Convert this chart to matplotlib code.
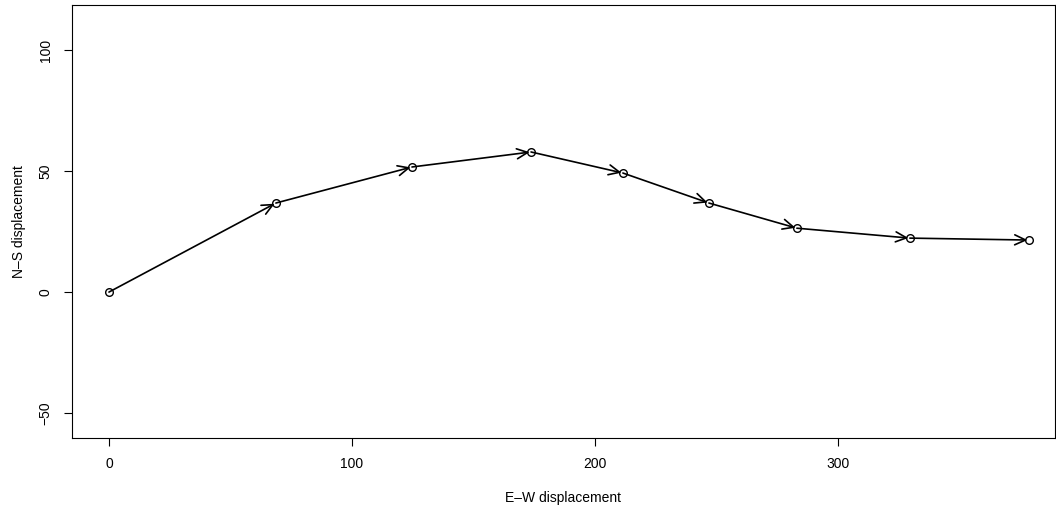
import numpy as np
from matplotlib import pyplot as plt

plt.rcParams['font.family'] = ['Liberation Sans', 'DejaVu Sans']

#%% DATA
ew = [0, 68.7, 124.7, 173.7, 211.5, 246.9, 283.1, 329.6, 378.6]
ns = [0, 36.8, 51.7, 57.9, 49.2, 36.8, 26.4, 22.3, 21.5]
xticks = [0, 100, 200, 300]
yticks = [-50, 0, 50, 100]

#%% PLOT
fig = plt.figure(figsize=(10.56, 5.11), dpi=100)
ax = fig.add_axes([0.0682, 0.1429, 0.9308, 0.8471])

ax.plot(ew, ns, linestyle='none', marker='o', markersize=5.5,
        markerfacecolor='none', markeredgecolor='black', markeredgewidth=1)

for i in range(len(ew) - 1):
    ax.annotate('', xy=(ew[i+1], ns[i+1]), xytext=(ew[i], ns[i]),
                arrowprops=dict(arrowstyle='->, head_length=0.78, head_width=0.36',
                                color='black', lw=1.2, shrinkA=0, shrinkB=1))

ax.set_xlim(-15.2, 389.3)
ax.set_ylim(-60.3, 118.6)
ax.set_xticks(xticks)
ax.set_yticks(yticks)
ax.set_yticklabels([str(v).replace('-', '\u2212') for v in yticks],
                   rotation=90, va='center')
ax.tick_params(direction='out', length=6, width=0.8, labelsize=10, pad=8)
for s in ax.spines.values():
    s.set_linewidth(0.8)

ax.set_xlabel('E\u2013W displacement', fontsize=10, labelpad=14)
ax.set_ylabel('N\u2013S displacement', fontsize=10, labelpad=9)

fig.savefig('out.png', dpi=100)
